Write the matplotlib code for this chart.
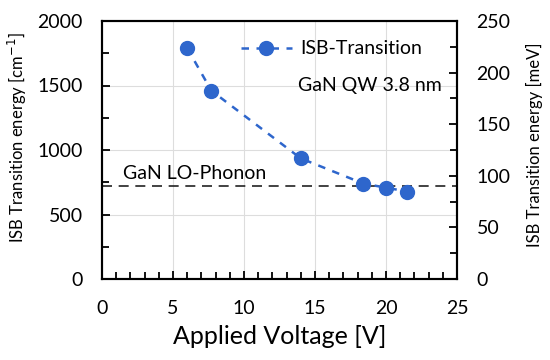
import matplotlib
matplotlib.use("Agg")
import matplotlib.pyplot as plt
from matplotlib.ticker import MultipleLocator

voltage = [6.0, 7.7, 14.0, 18.4, 20.0, 21.5]
energy_cm = [1790, 1460, 935, 740, 708, 678]
phonon_cm = 720
xticks = [0, 5, 10, 15, 20, 25]
yticks_left = [0, 500, 1000, 1500, 2000]
yticks_right = [0, 50, 100, 150, 200, 250]

plt.rcParams['font.family'] = ['Lato', 'DejaVu Sans']
blue = '#2E66CC'

fig = plt.figure(figsize=(5.5, 3.6), dpi=100)
ax = fig.add_axes([102/550, 1-279/360, (457-102)/550, (279-21)/360])
ax.set_xlim(0, 25)
ax.set_ylim(0, 2000)
ax.set_xticks(xticks)
ax.set_yticks(yticks_left)
ax.xaxis.set_minor_locator(MultipleLocator(1))
ax.yaxis.set_minor_locator(MultipleLocator(250))
ax.grid(True, which='major', color='#dddddd', linewidth=0.8)
ax.set_axisbelow(True)
for s in ax.spines.values():
    s.set_linewidth(1.5)
ax.tick_params(axis='both', which='both', direction='in', labelsize=14, width=1.3)
ax.tick_params(axis='both', which='major', length=6)
ax.tick_params(axis='x', which='major', pad=15)
ax.tick_params(axis='y', which='major', pad=14)
ax.tick_params(axis='both', which='minor', length=5)
ax.tick_params(axis='y', which='both', left=True, right=False)

ax.axhline(phonon_cm, color='#222222', linestyle=(0, (6, 4)), linewidth=1.2, zorder=2)
ax.plot(voltage, energy_cm, color=blue, linestyle=(0, (3, 3)), linewidth=1.8,
        marker='o', markersize=10, zorder=3, label='ISB-Transition')
ax.text(1.5, phonon_cm + 35, 'GaN LO-Phonon', fontsize=14, va='bottom', ha='left')

leg = ax.legend(loc='upper left', bbox_to_anchor=(0.37, 0.955), frameon=False,
                fontsize=14, handlelength=2.6, borderaxespad=0, handletextpad=0.45)
ax.text(13.8, 1500, 'GaN QW 3.8 nm', fontsize=14, va='center', ha='left')

ax.set_xlabel('Applied Voltage [V]', fontsize=18, labelpad=6)
ax.set_ylabel('ISB Transition energy [cm$^{-1}$]', fontsize=12)
ax.yaxis.set_label_coords(-0.205, 0.547)

ax2 = ax.twinx()
ax2.set_ylim(0, 250)
ax2.set_yticks(yticks_right)
ax2.yaxis.set_minor_locator(MultipleLocator(25))
ax2.tick_params(axis='y', which='both', direction='in', labelsize=14, width=1.3)
ax2.tick_params(axis='y', which='major', length=6, pad=14)
ax2.tick_params(axis='y', which='minor', length=5)
ax2.set_ylabel('ISB Transition energy [meV]', fontsize=12)
ax2.yaxis.set_label_coords(1.195, 0.52)
for s in ax2.spines.values():
    s.set_linewidth(1.5)

fig.savefig('out.png', dpi=100)
